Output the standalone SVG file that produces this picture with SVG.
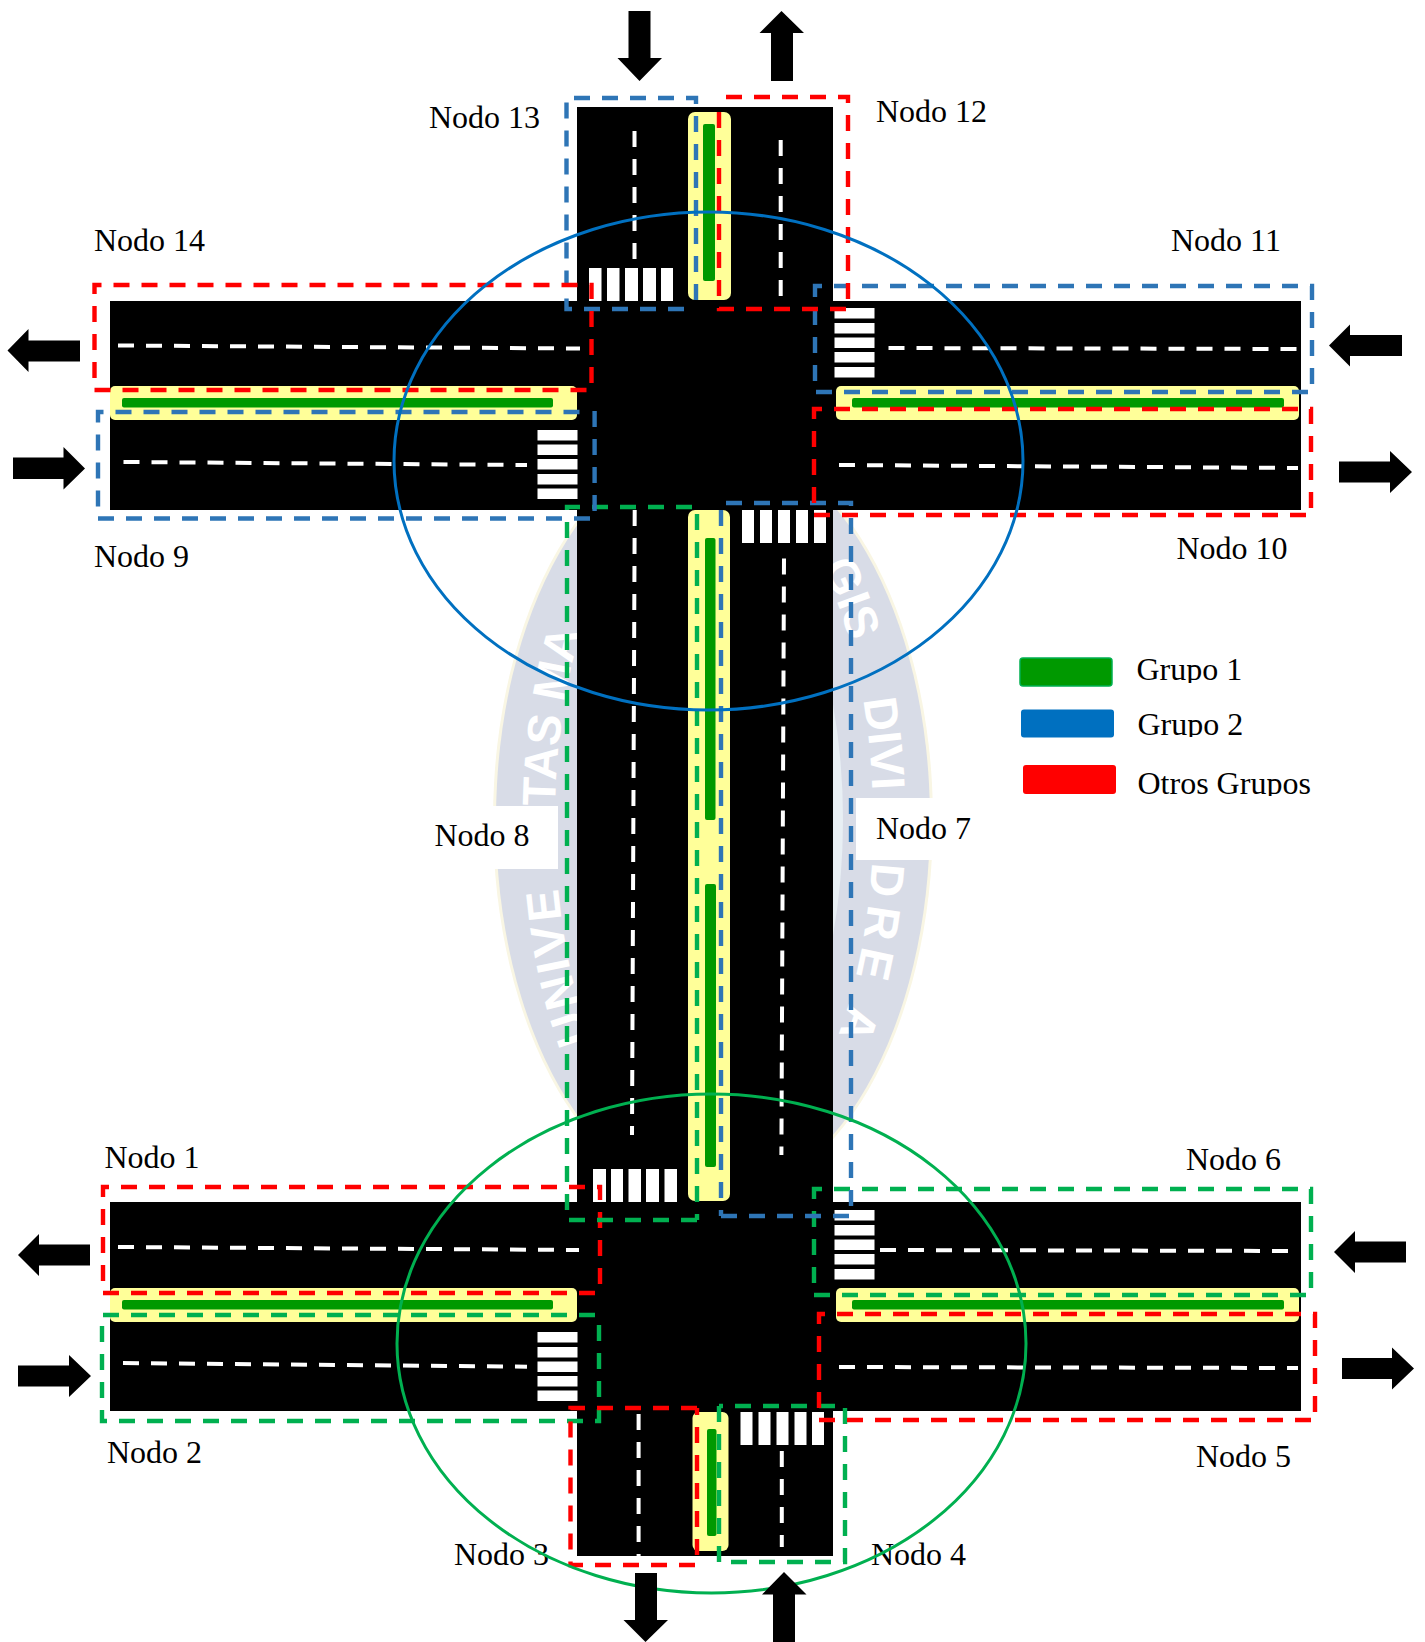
<svg xmlns="http://www.w3.org/2000/svg" width="1425" height="1642" viewBox="0 0 1425 1642">
<style>
.road{fill:#000}
.med{fill:#ffff99}
.grn{fill:#009900}
.lane{fill:none;stroke:#fff;stroke-width:4;stroke-dasharray:16 12}
.cw{fill:#fff}
.zone{fill:none;stroke-width:4.4;stroke-dasharray:16 12}
.zb{stroke:#2e75b6}
.zr{stroke:#ff0000}
.zg{stroke:#00b050}
.arr{fill:#000}
.lbl{font-family:"Liberation Serif","Times New Roman",serif;font-size:32px;fill:#000}
.wm{font-family:"Liberation Sans",Arial,sans-serif;font-weight:bold;font-size:47px;fill:#fff}
</style>
<defs>
<path id="wmL" d="M591,1040 A158,345 0 0 1 555,820 A158,345 0 0 1 713,475"/>
<path id="wmR" d="M792,520 A160,345 0 0 1 873,820 A160,345 0 0 1 793,1119"/>
<clipPath id="c1"><rect x="1120" y="640" width="200" height="43"/></clipPath>
<clipPath id="c2"><rect x="1120" y="695" width="200" height="42"/></clipPath>
<clipPath id="c3"><rect x="1120" y="750" width="250" height="46"/></clipPath>
</defs>
<rect width="1425" height="1642" fill="#fff"/>
<g id="watermark">
<ellipse cx="713" cy="820" rx="220" ry="381" fill="#f9f6e4"/>
<ellipse cx="713" cy="820" rx="217" ry="378" fill="#d8dce7"/>
<ellipse cx="713" cy="820" rx="130" ry="300" fill="#e8eff4"/>
<text class="wm" letter-spacing="3"><textPath href="#wmL">UNIVE</textPath></text>
<text class="wm"><textPath href="#wmL" startOffset="238">TAS MA</textPath></text>
<text class="wm"><textPath href="#wmR" startOffset="55">GIS</textPath></text>
<text class="wm"><textPath href="#wmR" startOffset="195">DIVI</textPath></text>
<text class="wm" letter-spacing="8"><textPath href="#wmR" startOffset="358">DRE A</textPath></text>
<rect x="440" y="806" width="118" height="63" fill="#fff"/>
<rect x="856" y="798" width="110" height="62" fill="#fff"/>
</g>
<g id="roads">
<rect class="road" x="577" y="107" width="256" height="1449"/>
<rect class="road" x="110" y="301" width="1191" height="209"/>
<rect class="road" x="110" y="1202" width="1191" height="209"/>
</g>
<g id="medians">
<rect class="med" x="688" y="112" width="43" height="188" rx="7"/>
<rect class="med" x="110" y="386" width="467" height="34" rx="5"/>
<rect class="med" x="836" y="386" width="463" height="34" rx="5"/>
<rect class="med" x="688" y="510" width="42" height="691" rx="7"/>
<rect class="med" x="110" y="1288" width="467" height="34" rx="5"/>
<rect class="med" x="836" y="1288" width="463" height="34" rx="5"/>
<rect class="med" x="692.500" y="1412" width="36" height="139" rx="6"/>
<rect class="grn" x="703" y="124" width="12" height="157" rx="2"/>
<rect class="grn" x="122" y="398" width="431" height="9.500" rx="2"/>
<rect class="grn" x="852" y="398" width="432" height="9.500" rx="2"/>
<rect class="grn" x="705" y="538" width="10.500" height="282" rx="2"/>
<rect class="grn" x="705" y="884" width="11" height="283" rx="2"/>
<rect class="grn" x="122" y="1300" width="431" height="9.500" rx="2"/>
<rect class="grn" x="852" y="1300" width="432" height="9.500" rx="2"/>
<rect class="grn" x="707" y="1429" width="9.500" height="107" rx="2"/>
</g>
<g id="lanes">
<path class="lane" d="M118,345.500L580,348.500"/>
<path class="lane" d="M123.500,462L527,465"/>
<path class="lane" d="M888.500,348L1298,349"/>
<path class="lane" d="M839,465L1298,468"/>
<path class="lane" d="M634.500,131V259"/>
<path class="lane" d="M780.700,140V296"/>
<path class="lane" d="M634.700,510L632,1135"/>
<path class="lane" d="M784,558.500L781.400,1155"/>
<path class="lane" d="M638.600,1414V1556"/>
<path class="lane" d="M781.800,1451V1547"/>
<path class="lane" d="M118,1247L579,1250"/>
<path class="lane" d="M123,1363L527,1366.700"/>
<path class="lane" d="M880,1250L1298,1251"/>
<path class="lane" d="M839,1367L1298,1368"/>
</g>
<g id="crosswalks">
<rect class="cw" x="589" y="268" width="12.500" height="33"/><rect class="cw" x="607" y="268" width="12.500" height="33"/><rect class="cw" x="625" y="268" width="13" height="33"/><rect class="cw" x="643" y="268" width="13" height="33"/><rect class="cw" x="661" y="268" width="12" height="33"/>
<rect class="cw" x="537.500" y="430" width="40" height="10.500"/><rect class="cw" x="537.500" y="444.500" width="40" height="10.500"/><rect class="cw" x="537.500" y="459" width="40" height="10.500"/><rect class="cw" x="537.500" y="474" width="40" height="10.500"/><rect class="cw" x="537.500" y="488.500" width="40" height="10.500"/>
<rect class="cw" x="834.500" y="308" width="40" height="10.500"/><rect class="cw" x="834.500" y="323" width="40" height="10.500"/><rect class="cw" x="834.500" y="337.500" width="40" height="10.500"/><rect class="cw" x="834.500" y="352" width="40" height="10.500"/><rect class="cw" x="834.500" y="367" width="40" height="10.500"/>
<rect class="cw" x="742" y="510" width="12" height="33"/><rect class="cw" x="760" y="510" width="12" height="33"/><rect class="cw" x="778" y="510" width="12" height="33"/><rect class="cw" x="796" y="510" width="12" height="33"/><rect class="cw" x="814" y="510" width="12" height="33"/>
<rect class="cw" x="593" y="1169" width="13" height="33"/><rect class="cw" x="611" y="1169" width="12" height="33"/><rect class="cw" x="628.500" y="1169" width="12.500" height="33"/><rect class="cw" x="646" y="1169" width="13" height="33"/><rect class="cw" x="664.500" y="1169" width="12.500" height="33"/>
<rect class="cw" x="537.500" y="1332" width="40" height="10.500"/><rect class="cw" x="537.500" y="1347" width="40" height="10.500"/><rect class="cw" x="537.500" y="1361.500" width="40" height="10.500"/><rect class="cw" x="537.500" y="1376" width="40" height="10.500"/><rect class="cw" x="537.500" y="1390.500" width="40" height="10.500"/>
<rect class="cw" x="834.500" y="1210" width="40" height="10.500"/><rect class="cw" x="834.500" y="1225" width="40" height="10.500"/><rect class="cw" x="834.500" y="1239.500" width="40" height="10.500"/><rect class="cw" x="834.500" y="1254" width="40" height="10.500"/><rect class="cw" x="834.500" y="1269" width="40" height="10.500"/>
<rect class="cw" x="740.500" y="1412" width="12" height="33"/><rect class="cw" x="758.500" y="1412" width="12" height="33"/><rect class="cw" x="776.500" y="1412" width="12" height="33"/><rect class="cw" x="794.500" y="1412" width="12" height="33"/><rect class="cw" x="812" y="1412" width="12" height="33"/>
</g>
<g id="nodo-1"><path class="zone zr" d="M595,1293H103V1187H600V1293"/><text class="lbl" x="104.500" y="1167.500">Nodo 1</text></g>
<g id="nodo-2"><path class="zone zg" d="M595,1315H102V1421H599V1315"/><text class="lbl" x="107" y="1463">Nodo 2</text></g>
<g id="nodo-3"><path class="zone zr" d="M697,1408H570.500V1565H697V1408"/><text class="lbl" x="454" y="1565">Nodo 3</text></g>
<g id="nodo-4"><path class="zone zg" d="M719,1406V1562H845V1406H719"/><text class="lbl" x="871" y="1565">Nodo 4</text></g>
<g id="nodo-5"><path class="zone zr" d="M825,1314H819V1420H1315V1314H825"/><text class="lbl" x="1196" y="1467">Nodo 5</text></g>
<g id="nodo-6"><path class="zone zg" d="M820,1189H814V1295H1311V1189H820"/><text class="lbl" x="1186" y="1169.500">Nodo 6</text></g>
<g id="nodo-7"><path class="zone zb" d="M721,1216H851V503H721V1216"/><text class="lbl" x="876" y="839">Nodo 7</text></g>
<g id="nodo-8"><path class="zone zg" d="M697,1220H567V507H697V1220"/><text class="lbl" x="434.500" y="846">Nodo 8</text></g>
<g id="nodo-9"><path class="zone zb" d="M590,518.500H98V412H582M594.600,411V511"/><text class="lbl" x="94" y="566.500">Nodo 9</text></g>
<g id="nodo-10"><path class="zone zr" d="M820,409H814V515H1311V409H820"/><text class="lbl" x="1176.500" y="559">Nodo 10</text></g>
<g id="nodo-11"><path class="zone zb" d="M820,286H815V392H1312V286H820"/><text class="lbl" x="1171" y="251">Nodo 11</text></g>
<g id="nodo-12"><path class="zone zr" d="M726,97H848V309H719V104"/><text class="lbl" x="876" y="122">Nodo 12</text></g>
<g id="nodo-13"><path class="zone zb" d="M696,300V98H566.500V309H696"/><text class="lbl" x="429" y="128">Nodo 13</text></g>
<g id="nodo-14"><path class="zone zr" d="M94.500,390H591.500V285H94.500V390"/><text class="lbl" x="94" y="250.500">Nodo 14</text></g>
<g id="connectors">
<ellipse cx="708.500" cy="461" rx="314.500" ry="249" fill="none" stroke="#0070c0" stroke-width="3"/>
<ellipse cx="711.500" cy="1343.500" rx="314.500" ry="249.500" fill="none" stroke="#00b050" stroke-width="3"/>
<polygon class="arr" points="628.500,11 650.500,11 650.500,58 662,58 639.500,81 617.500,58 628.500,58"/>
<polygon class="arr" points="781.500,11 804,33 793,33 793,81 771,81 771,33 759.500,33"/>
<polygon class="arr" points="7.500,350.500 28.500,329 28.500,340.500 80,340.500 80,361.500 28.500,361.500 28.500,372"/>
<polygon class="arr" points="13,457.500 63.500,457.500 63.500,447 85,468.500 63.500,489.500 63.500,479 13,479"/>
<polygon class="arr" points="1329,345.500 1350,324.500 1350,335 1402,335 1402,356 1350,356 1350,366.500"/>
<polygon class="arr" points="1339,461.500 1390,461.500 1390,451 1412,472 1390,493 1390,482.500 1339,482.500"/>
<polygon class="arr" points="18,1255 39,1234 39,1244.500 90,1244.500 90,1265.500 39,1265.500 39,1276"/>
<polygon class="arr" points="18,1365.500 69,1365.500 69,1355 91,1376 69,1397 69,1386.500 18,1386.500"/>
<polygon class="arr" points="1334,1252 1355,1231 1355,1241.500 1406,1241.500 1406,1262.500 1355,1262.500 1355,1273"/>
<polygon class="arr" points="1342,1358 1392,1358 1392,1347.500 1414,1368.500 1392,1389.500 1392,1379 1342,1379"/>
<polygon class="arr" points="635,1573 657,1573 657,1620 668,1620 645.500,1642 623.500,1620 635,1620"/>
<polygon class="arr" points="784,1572 806.500,1594.500 795,1594.500 795,1642 773,1642 773,1594.500 762,1594.500"/>
</g>
<g id="legend">
<rect x="1020" y="658" width="92" height="28" rx="3" fill="#009900" stroke="#00b050" stroke-width="1.500"/>
<text class="lbl" x="1136.500" y="680" clip-path="url(#c1)">Grupo 1</text>
<rect x="1021" y="709.500" width="93" height="28" rx="3" fill="#0070c0"/>
<text class="lbl" x="1137.500" y="735" clip-path="url(#c2)">Grupo 2</text>
<rect x="1023" y="765" width="93" height="29" rx="3" fill="#ff0000"/>
<text class="lbl" x="1137.500" y="794" clip-path="url(#c3)">Otros Grupos</text>
</g>
</svg>
